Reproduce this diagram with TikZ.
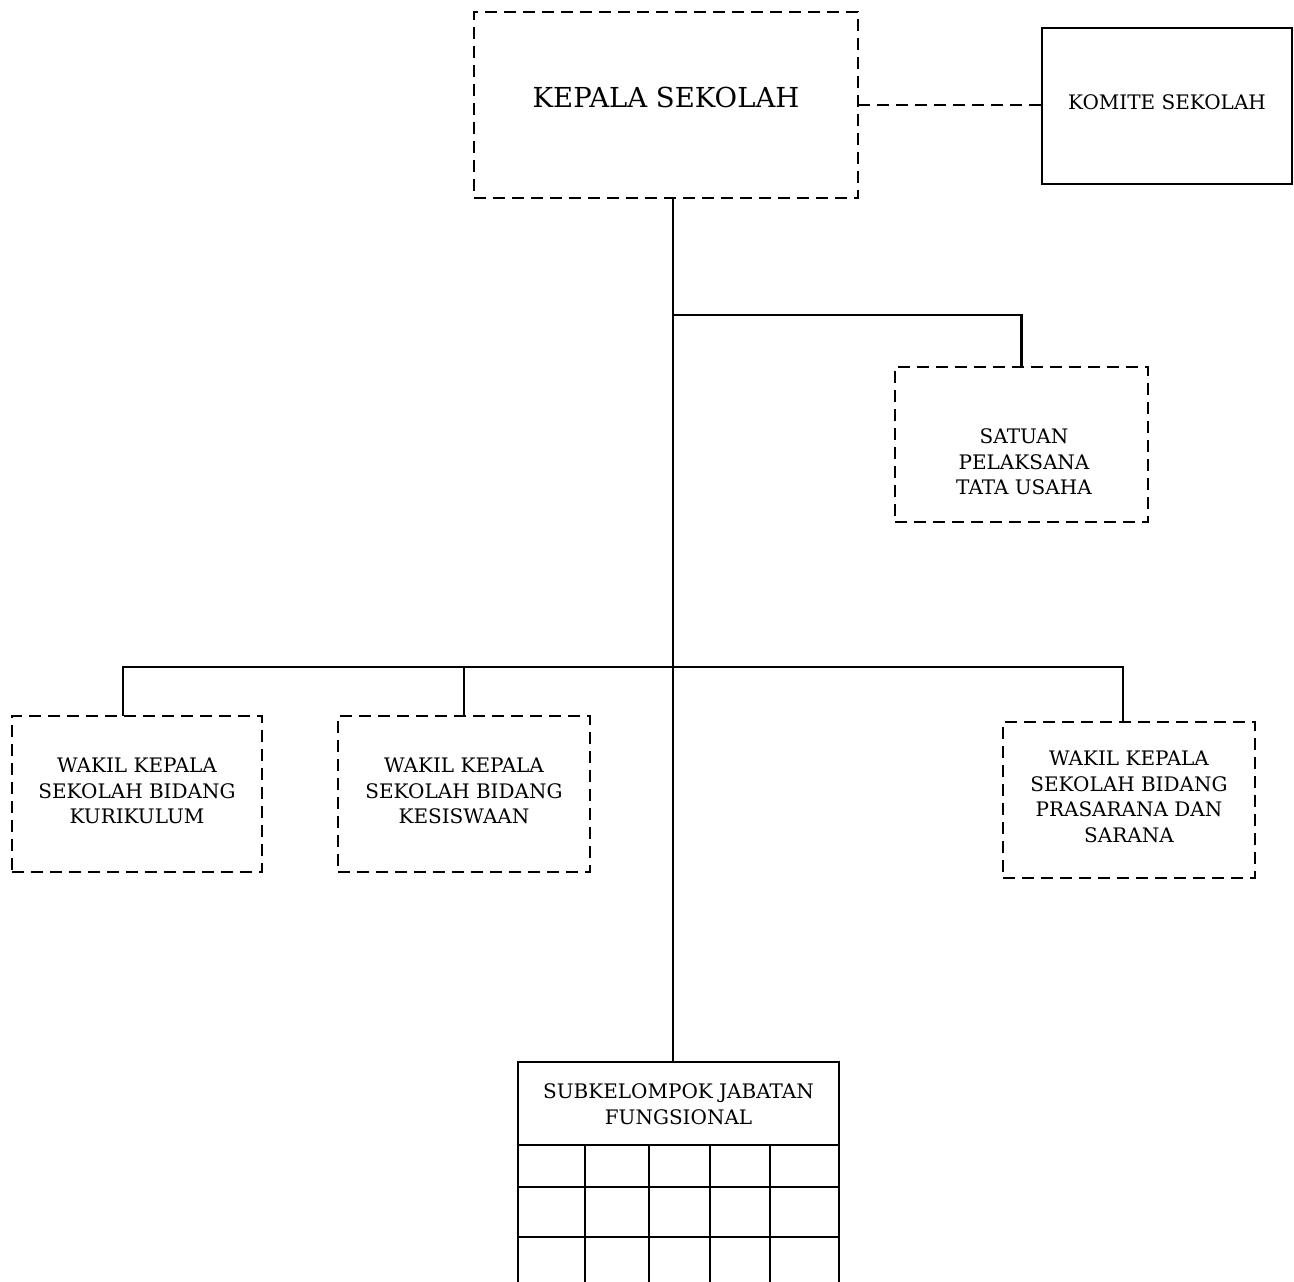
\documentclass[tikz,border=0pt]{standalone}
\usepackage{fontspec}
\setmainfont{DejaVu Serif}
\begin{document}
\begin{tikzpicture}[x=1pt,y=-1pt,
 dbox/.style={draw, line width=2.8pt, dash pattern=on 12pt off 7pt, inner sep=0pt, outer sep=0pt},
 sbox/.style={draw, line width=2.8pt, inner sep=0pt, outer sep=0pt},
 conn/.style={line width=2.2pt},
 dconn/.style={line width=2.8pt, dash pattern=on 12pt off 7pt},
 grid/.style={line width=2.6pt},
 lbl/.style={font=\fontsize{20}{25.5}\selectfont, align=center, inner sep=0pt}]
\clip (0,0) rectangle (1294,1282);
\fill[white] (0,0) rectangle (1294,1282);
% boxes
\node[dbox, minimum width=384pt, minimum height=186pt] (kep) at (666,105) {};
\node[sbox, minimum width=250pt, minimum height=156pt] (kom) at (1167,106) {};
\node[dbox, minimum width=253pt, minimum height=155pt] (sat) at (1021.5,444.5) {};
\node[dbox, minimum width=250pt, minimum height=156pt] (kur) at (137,794) {};
\node[dbox, minimum width=252pt, minimum height=156pt] (kes) at (464,794) {};
\node[dbox, minimum width=252pt, minimum height=156pt] (pra) at (1129,800) {};
\node[sbox, minimum width=321pt, minimum height=83pt] (sub) at (678.5,1103.5) {};
% texts
\node[lbl, font=\fontsize{27.5}{30}\selectfont] (kept) at (666,97) {KEPALA SEKOLAH};
\node[lbl] (komt) at (1167,102) {KOMITE SEKOLAH};
\node[lbl] (satt) at (1024,462) {SATUAN\\PELAKSANA\\TATA USAHA};
\node[lbl] (kurt) at (137,791) {WAKIL KEPALA\\SEKOLAH BIDANG\\KURIKULUM};
\node[lbl] (kest) at (464,791) {WAKIL KEPALA\\SEKOLAH BIDANG\\KESISWAAN};
\node[lbl] (prat) at (1129,797) {WAKIL KEPALA\\SEKOLAH BIDANG\\PRASARANA DAN\\SARANA};
\node[lbl] (subt) at (678.5,1104) {SUBKELOMPOK JABATAN\\FUNGSIONAL};
% table grid below header
\draw[grid] (sub.south west) -- (sub.south west |- 0,1300);
\draw[grid] (sub.south east) -- (sub.south east |- 0,1300);
\foreach \yy in {1187,1237}{
  \draw[grid] (sub.west |- 0,\yy) -- (sub.east |- 0,\yy);
}
\foreach \xx in {585,649,710,770}{
  \draw[grid] (sub.south -| \xx,0) -- (\xx,1300);
}
% connectors
\coordinate (j1) at (673,315);
\coordinate (j2) at (673,667);
\draw[dconn] (kep.east) -- (kep.east -| kom.west);
\draw[conn] (kep.south -| j1) -- (sub.north -| j1);
\draw[conn] (j1) -| (sat.north);
\draw[conn] ([xshift=-14pt]kur.north) |- (j2) -| ([xshift=-6pt]pra.north);
\draw[conn] (kes.north) -- (kes.north |- j2);
\end{tikzpicture}
\end{document}
